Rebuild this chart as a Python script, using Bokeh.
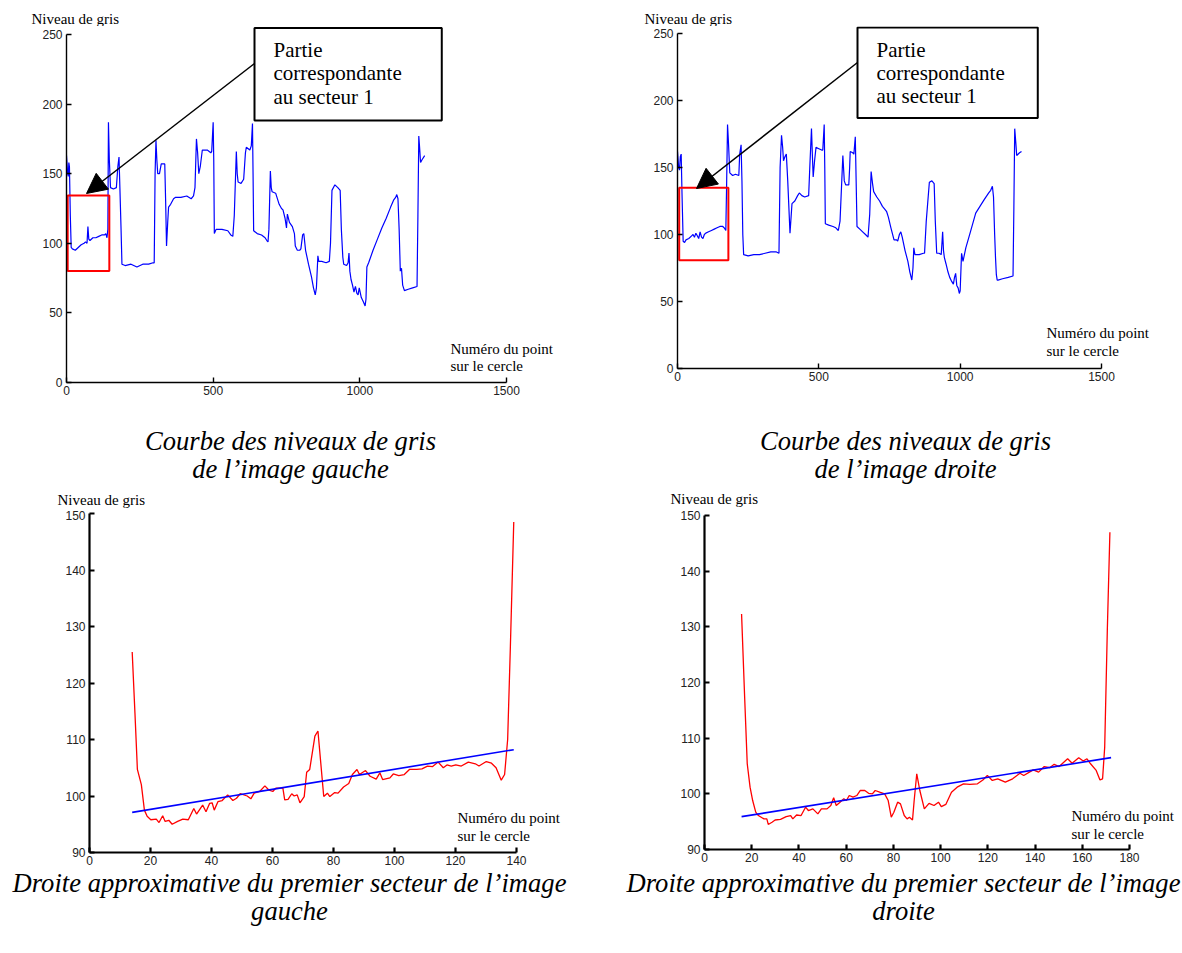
from bokeh.plotting import figure
from bokeh.layouts import column, row
from bokeh.models import Range1d, Label, Arrow, NormalHead, FixedTicker
from bokeh.core.properties import value
from bokeh.embed import file_html
from bokeh.resources import INLINE

# ---------------- data ----------------
# top-left: grey level along the circle, left image
left_pts = [0, 4, 6, 8, 10, 13, 16, 20, 30, 40, 50, 60, 65, 70, 73, 76, 80, 90, 100, 110, 120, 130, 134, 138, 141,
            143, 146, 150, 160, 170, 175, 179, 182, 186, 189, 200, 220, 240, 260, 280, 295, 299, 302, 305, 308, 311,
            317, 323, 335, 338, 341, 345, 348, 355, 365, 372, 390, 410, 425, 433, 438, 443, 447, 451, 456, 463, 480,
            492, 495, 500, 502, 504, 510, 530, 550, 560, 567, 572, 579, 582, 585, 595, 604, 610, 613, 625, 630, 634,
            636, 638, 650, 665, 677, 683, 687, 690, 695, 698, 701, 713, 725, 733, 738, 745, 750, 753, 760, 770, 777,
            780, 787, 795, 799, 805, 809, 815, 825, 835, 842, 848, 852, 857, 860, 870, 885, 896, 900, 905, 915, 925,
            933, 937, 942, 945, 955, 960, 963, 966, 970, 975, 980, 985, 990, 994, 998, 1005, 1012, 1018, 1021, 1024,
            1030, 1045, 1060, 1075, 1090, 1105, 1115, 1122, 1126, 1130, 1134, 1138, 1142, 1146, 1152, 1165, 1180,
            1195, 1198, 1201, 1204, 1207, 1212, 1221]
left_grey = [163, 150, 148, 158, 155, 120, 97, 96, 95, 97, 99, 100, 101, 100, 112, 103, 102, 104, 104, 105, 106, 106,
             107, 104, 110, 187, 160, 140, 139, 140, 155, 162, 140, 110, 85, 84, 85, 83, 85, 85, 86, 86, 150, 174,
             160, 150, 150, 157, 157, 130, 98, 115, 126, 128, 132, 133, 133, 134, 132, 134, 140, 175, 165, 150, 155,
             167, 167, 165, 166, 187, 160, 107, 110, 110, 109, 106, 105, 120, 166, 150, 144, 143, 146, 165, 169, 167,
             170, 186, 150, 109, 107, 106, 104, 102, 101, 110, 152, 140, 137, 136, 128, 125, 124, 118, 111, 121, 115,
             112, 107, 98, 95, 95, 96, 106, 107, 95, 85, 76, 68, 63, 68, 91, 87, 87, 86, 87, 100, 138, 142, 140, 138,
             110, 90, 85, 84, 86, 93, 80, 74, 70, 65, 69, 64, 63, 68, 61, 58, 55, 60, 83, 86, 95, 103, 111, 118, 126,
             131, 133, 135, 132, 110, 80, 82, 70, 66, 67, 68, 69, 120, 177, 168, 158, 160, 163]

# top-right: grey level along the circle, right image
right_pts = [0, 4, 7, 10, 13, 16, 20, 25, 30, 40, 50, 55, 60, 65, 70, 75, 80, 85, 90, 95, 100, 110, 120, 130, 140,
             150, 160, 165, 171, 174, 177, 180, 185, 195, 205, 217, 220, 225, 228, 231, 234, 250, 270, 290, 310, 330,
             350, 359, 363, 368, 372, 375, 380, 385, 390, 398, 405, 415, 425, 431, 440, 450, 464, 468, 474, 477, 480,
             485, 490, 500, 510, 514, 519, 521, 523, 535, 550, 560, 569, 575, 585, 590, 595, 606, 609, 611, 620, 624,
             629, 632, 635, 645, 655, 665, 674, 680, 685, 690, 694, 705, 715, 725, 733, 740, 746, 755, 766, 775, 779,
             785, 790, 795, 805, 815, 822, 829, 833, 836, 840, 855, 870, 874, 880, 891, 900, 908, 912, 917, 925, 933,
             936, 938, 941, 944, 950, 957, 963, 970, 976, 980, 984, 988, 993, 997, 1000, 1003, 1005, 1010, 1020, 1035,
             1055, 1070, 1085, 1101, 1108, 1114, 1118, 1122, 1125, 1128, 1131, 1134, 1150, 1170, 1187, 1190, 1193,
             1197, 1200, 1210, 1217]
right_grey = [162, 150, 148, 158, 160, 130, 95, 94, 96, 97, 99, 100, 98, 101, 99, 97, 102, 98, 97, 100, 101, 102,
              103, 104, 105, 106, 106, 105, 103, 140, 182, 170, 146, 144, 145, 144, 160, 167, 140, 100, 85, 84, 85,
              85, 86, 87, 87, 86, 150, 174, 165, 155, 158, 160, 140, 101, 123, 125, 129, 131, 129, 128, 129, 150, 179,
              160, 143, 155, 165, 164, 163, 163, 182, 150, 108, 107, 106, 105, 103, 110, 159, 140, 137, 137, 150, 162,
              161, 160, 173, 140, 106, 104, 102, 100, 98, 115, 147, 138, 132, 128, 125, 121, 119, 117, 113, 105, 96,
              96, 95, 100, 102, 98, 88, 80, 72, 66, 75, 90, 85, 85, 86, 86, 110, 139, 140, 138, 110, 86, 86, 85, 95,
              102, 88, 83, 78, 72, 68, 65, 63, 68, 71, 62, 60, 56, 58, 75, 86, 80, 90, 101, 116, 121, 126, 131, 133,
              136, 128, 100, 83, 70, 66, 66, 67, 68, 69, 120, 179, 168, 159, 161, 162]

# bottom-left: first sector of the left image + fitted line
sec_left_pts = [14.0, 14.9, 15.7, 17.0, 18.0, 18.9, 20.1, 21.9, 22.8, 24.0, 24.8, 26.0, 27.1, 28.9, 30.6, 32.4, 34.2,
                35.1, 37.1, 38.2, 39.4, 40.2, 40.9, 42.1, 43.5, 45.3, 47.0, 48.2, 49.4, 51.7, 52.9, 54.0, 55.8, 57.5,
                58.7, 60.1, 61.1, 63.4, 64.0, 65.1, 66.3, 67.1, 68.1, 69.0, 70.4, 71.2, 72.2, 73.9, 74.9, 76.8, 78.0,
                78.8, 80.4, 81.5, 83.3, 85.0, 86.2, 87.7, 88.5, 90.5, 92.0, 94.0, 95.2, 96.1, 98.5, 99.6, 101.4, 103.2,
                104.9, 107.3, 109.0, 110.8, 112.5, 114.3, 116.0, 117.2, 118.6, 120.1, 121.9, 124.2, 126.5, 127.7,
                130.1, 131.8, 133.3, 135.0, 136.1, 137.1, 138.0, 139.1]
sec_left_grey = [125.5, 114.7, 104.7, 102.0, 97.5, 96.4, 95.8, 95.9, 95.3, 96.5, 95.5, 95.7, 95.0, 95.5, 95.9, 95.8,
                 97.8, 96.8, 98.4, 97.2, 98.7, 98.8, 97.5, 99.0, 99.2, 100.2, 99.2, 99.6, 100.4, 100.0, 99.5, 100.5,
                 100.8, 101.8, 101.1, 100.8, 101.4, 101.4, 99.3, 99.4, 100.4, 100.0, 100.2, 98.8, 99.9, 104.2, 104.7,
                 110.6, 111.5, 99.9, 100.5, 99.9, 100.6, 100.5, 101.6, 102.2, 103.8, 104.7, 103.8, 104.5, 103.5,
                 103.0, 104.1, 102.9, 103.2, 103.9, 103.6, 103.8, 104.7, 104.7, 104.8, 105.3, 105.2, 106.0, 105.0,
                 105.5, 105.3, 105.5, 105.3, 106.0, 105.7, 105.3, 106.1, 105.8, 105.0, 102.8, 103.8, 110.0, 126.6,
                 148.5]
fit_left_pts = [14.0, 139.1]
fit_left_grey = [97.1, 108.2]

# bottom-right: first sector of the right image + fitted line
sec_right_pts = [15.7, 17.0, 18.1, 19.3, 20.4, 21.7, 22.8, 25.2, 26.4, 27.0, 28.6, 29.9, 32.2, 34.6, 36.5, 37.4,
                 39.0, 40.9, 42.8, 44.0, 45.9, 48.0, 49.5, 51.9, 53.5, 54.7, 55.8, 57.4, 59.0, 60.1, 61.3, 62.9, 64.5,
                 66.0, 67.9, 69.5, 71.1, 72.3, 74.2, 76.3, 77.8, 79.1, 80.2, 81.8, 83.0, 84.6, 85.8, 86.8, 88.1, 88.8,
                 89.9, 91.2, 93.1, 95.1, 97.2, 99.1, 100.3, 102.2, 104.6, 107.0, 109.7, 112.4, 115.6, 117.9, 119.8,
                 121.9, 124.2, 127.4, 130.5, 133.6, 135.2, 137.6, 139.2, 141.5, 143.9, 146.2, 148.1, 150.2, 151.7,
                 153.8, 155.7, 158.5, 160.4, 162.0, 163.5, 165.9, 167.5, 168.6, 169.5, 170.6, 171.7]
sec_right_grey = [132.3, 117.4, 105.4, 101.2, 98.8, 96.7, 96.1, 95.5, 95.5, 94.5, 94.9, 95.3, 95.4, 95.9, 96.1, 95.5,
                  96.2, 96.1, 97.6, 97.0, 97.3, 96.4, 97.3, 97.3, 97.9, 99.3, 97.9, 98.5, 99.1, 98.8, 99.7, 99.4, 99.7,
                  100.6, 100.6, 100.1, 100.0, 100.6, 100.3, 100.0, 98.8, 95.8, 96.7, 98.5, 98.2, 96.1, 95.5, 95.8, 95.3,
                  98.8, 103.6, 100.6, 97.3, 98.3, 97.9, 98.5, 97.7, 98.1, 100.3, 101.2, 101.8, 101.7, 101.8, 102.5,
                  103.3, 102.4, 102.7, 102.1, 102.7, 103.7, 103.3, 103.9, 104.3, 103.9, 104.9, 104.7, 105.3, 104.9,
                  105.5, 106.3, 105.5, 106.5, 105.9, 106.3, 105.4, 104.2, 102.5, 102.7, 108.4, 129.3, 147.0]
fit_right_pts = [15.7, 172.2]
fit_right_grey = [95.9, 106.5]

# highlighted sector 1 (x from, x to, grey from, grey to)
sector_left = [4, 146, 80.1, 134.4]
sector_right = [6, 180, 80.8, 134.8]

top_xticks = [0, 500, 1000, 1500]
top_yticks = [0, 50, 100, 150, 200, 250]
bl_xticks = [0, 20, 40, 60, 80, 100, 120, 140]
br_xticks = [0, 20, 40, 60, 80, 100, 120, 140, 160, 180]
bot_yticks = [90, 100, 110, 120, 130, 140, 150]

ylabel_text = "Niveau de gris"
xlabel_lines = ["Numéro du point", "sur le cercle"]
callout_text = "Partie\ncorrespondante\nau secteur 1"
captions_top = [["Courbe des niveaux de gris", "de l\u2019image gauche"],
                ["Courbe des niveaux de gris", "de l\u2019image droite"]]
captions_bottom = [["Droite approximative du premier secteur de l\u2019image", "gauche"],
                   ["Droite approximative du premier secteur de l\u2019image", "droite"]]

SERIF = "Liberation Serif"
SANS = "Liberation Sans"
PAGE_W = 1182
CAP = 26.6


def lin(c0, c1):
    (d0, p0), (d1, p1) = c0, c1
    return lambda px: d0 + (px - p0) * (d1 - d0) / (p1 - p0)


class Panel:
    """A chart panel; geometry given in page pixels."""

    def __init__(self, fig_box, frame_box, xcal, ycal, xticks, yticks, axis_w):
        fx0, fy0, fx1, fy1 = fig_box
        rx0, ry0, rx1, ry1 = frame_box
        self.dx = lin(*xcal)
        self.dy = lin(*ycal)
        p = figure(frame_width=rx1 - rx0, frame_height=ry1 - ry0,
                   min_border_left=rx0 - fx0, min_border_right=fx1 - rx1,
                   min_border_top=ry0 - fy0, min_border_bottom=fy1 - ry1,
                   x_range=Range1d(self.dx(rx0), self.dx(rx1)),
                   y_range=Range1d(self.dy(ry1), self.dy(ry0)),
                   output_backend="svg", toolbar_location=None, tools="")
        p.xgrid.visible = False
        p.ygrid.visible = False
        p.outline_line_color = None
        p.xaxis.ticker = FixedTicker(ticks=xticks)
        p.yaxis.ticker = FixedTicker(ticks=yticks)
        p.xaxis.bounds = (xticks[0], xticks[-1])
        p.yaxis.bounds = (yticks[0], yticks[-1])
        for ax in p.axis:
            ax.axis_line_color = "black"
            ax.axis_line_width = axis_w
            ax.major_tick_in = 5
            ax.major_tick_out = 0
            ax.minor_tick_in = 0
            ax.minor_tick_out = 0
            ax.major_tick_line_width = axis_w
            ax.major_tick_line_color = "black"
            ax.major_label_text_font = SANS
            ax.major_label_text_font_size = "12px"
            ax.major_label_text_color = "#222222"
            ax.major_label_standoff = 4
        p.xaxis.major_label_standoff = 3
        self.p = p

    def label(self, s, px, py, size):
        self.p.add_layout(Label(x=self.dx(px), y=self.dy(py), text=s, text_font=SERIF,
                                text_font_size=f"{size}px", text_align="left",
                                text_baseline="alphabetic", text_color="black"))

    def xlabel(self, px, py1, py2):
        self.label(xlabel_lines[0], px, py1, 15)
        self.label(xlabel_lines[1], px, py2, 15)

    def callout(self, box_xy, pad, arrow_from, arrow_to):
        self.p.add_layout(Label(x=self.dx(box_xy[0]), y=self.dy(box_xy[1]), text=callout_text,
                                text_font=SERIF, text_font_size="21px", text_line_height=0.97,
                                text_align="left", text_baseline="top", text_color="black",
                                background_fill_color="white", background_fill_alpha=1.0,
                                border_line_color="black", border_line_width=2, padding=pad))
        self.p.add_layout(Arrow(end=NormalHead(size=20, fill_color="black", line_color="black"),
                                x_start=self.dx(arrow_from[0]), y_start=self.dy(arrow_from[1]),
                                x_end=self.dx(arrow_to[0]), y_end=self.dy(arrow_to[1]),
                                line_color="black", line_width=1.5))


def strip(y0, y1, items):
    """A text-only band of the page (page pixel coordinates, y downward)."""
    h = y1 - y0
    s = figure(frame_width=PAGE_W, frame_height=h, min_border=0,
               x_range=Range1d(0, PAGE_W), y_range=Range1d(y1, y0),
               x_axis_type=None, y_axis_type=None,
               output_backend="svg", toolbar_location=None, tools="")
    s.grid.visible = False
    s.outline_line_color = None
    for txt, px, py, size, align, style in items:
        s.text(x=[px], y=[py], text=[txt], text_font=value(SERIF), text_font_size=value(f"{size}px"),
               text_font_style=style, text_align=align, text_baseline="alphabetic", text_color="black")
    return s


# ---------------- top-left ----------------
tl = Panel((0, 26, 600, 405), (66, 26, 590, 382), ((0, 66), (1500, 506)), ((0, 382), (250, 34)),
           top_xticks, top_yticks, 1.4)
tl.p.line(left_pts, left_grey, line_color="#0000FF", line_width=1.2)
tl.p.quad(left=[sector_left[0]], right=[sector_left[1]], bottom=[sector_left[2]], top=[sector_left[3]],
          fill_color=None, line_color="#FF0000", line_width=2)
tl.callout((254, 27.5), dict(left=19, right=40, top=10, bottom=12), (254, 63), (86, 193))
tl.xlabel(450, 348, 365)

# ---------------- top-right ----------------
tr = Panel((600, 26, 1182, 405), (677, 26, 1172, 368), ((0, 677), (1500, 1101)), ((0, 368), (250, 33)),
           top_xticks, top_yticks, 1.4)
tr.p.line(right_pts, right_grey, line_color="#0000FF", line_width=1.2)
tr.p.quad(left=[sector_right[0]], right=[sector_right[1]], bottom=[sector_right[2]], top=[sector_right[3]],
          fill_color=None, line_color="#FF0000", line_width=2)
tr.callout((857, 27), dict(left=19, right=33, top=10, bottom=10), (857, 62), (696, 188))
tr.xlabel(1046, 332, 350)

# ---------------- bottom-left ----------------
bl = Panel((0, 510, 600, 868), (89, 510, 590, 852), ((0, 89), (140, 516)), ((90, 852), (150, 513)),
           bl_xticks, bot_yticks, 2.2)
bl.p.line(sec_left_pts, sec_left_grey, line_color="#FF0000", line_width=1.3)
bl.p.line(fit_left_pts, fit_left_grey, line_color="#0000FF", line_width=1.6)
bl.xlabel(457, 817, 835)

# ---------------- bottom-right ----------------
br = Panel((600, 510, 1182, 868), (704, 510, 1178, 849), ((0, 704), (180, 1129)), ((90, 849), (150, 515)),
           br_xticks, bot_yticks, 2.2)
br.p.line(sec_right_pts, sec_right_grey, line_color="#FF0000", line_width=1.3)
br.p.line(fit_right_pts, fit_right_grey, line_color="#0000FF", line_width=1.6)
br.xlabel(1071, 815, 833)

# ---------------- text bands ----------------
band_a = strip(0, 26, [(ylabel_text, 31, 18, 15, "left", "normal"),
                       (ylabel_text, 644, 18, 15, "left", "normal")])
band_c = strip(405, 510, [(captions_top[0][0], 290, 440, CAP, "center", "italic"),
                          (captions_top[0][1], 290, 468, CAP, "center", "italic"),
                          (captions_top[1][0], 905, 440, CAP, "center", "italic"),
                          (captions_top[1][1], 905, 468, CAP, "center", "italic"),
                          (ylabel_text, 57, 499, 15, "left", "normal"),
                          (ylabel_text, 670, 498, 15, "left", "normal")])
band_e = strip(868, 953, [(captions_bottom[0][0], 289, 882, CAP, "center", "italic"),
                          (captions_bottom[0][1], 289, 910, CAP, "center", "italic"),
                          (captions_bottom[1][0], 903, 882, CAP, "center", "italic"),
                          (captions_bottom[1][1], 903, 910, CAP, "center", "italic")])

layout = column(band_a, row(tl.p, tr.p), band_c, row(bl.p, br.p), band_e)
open("out.html", "w").write(file_html(layout, INLINE))
